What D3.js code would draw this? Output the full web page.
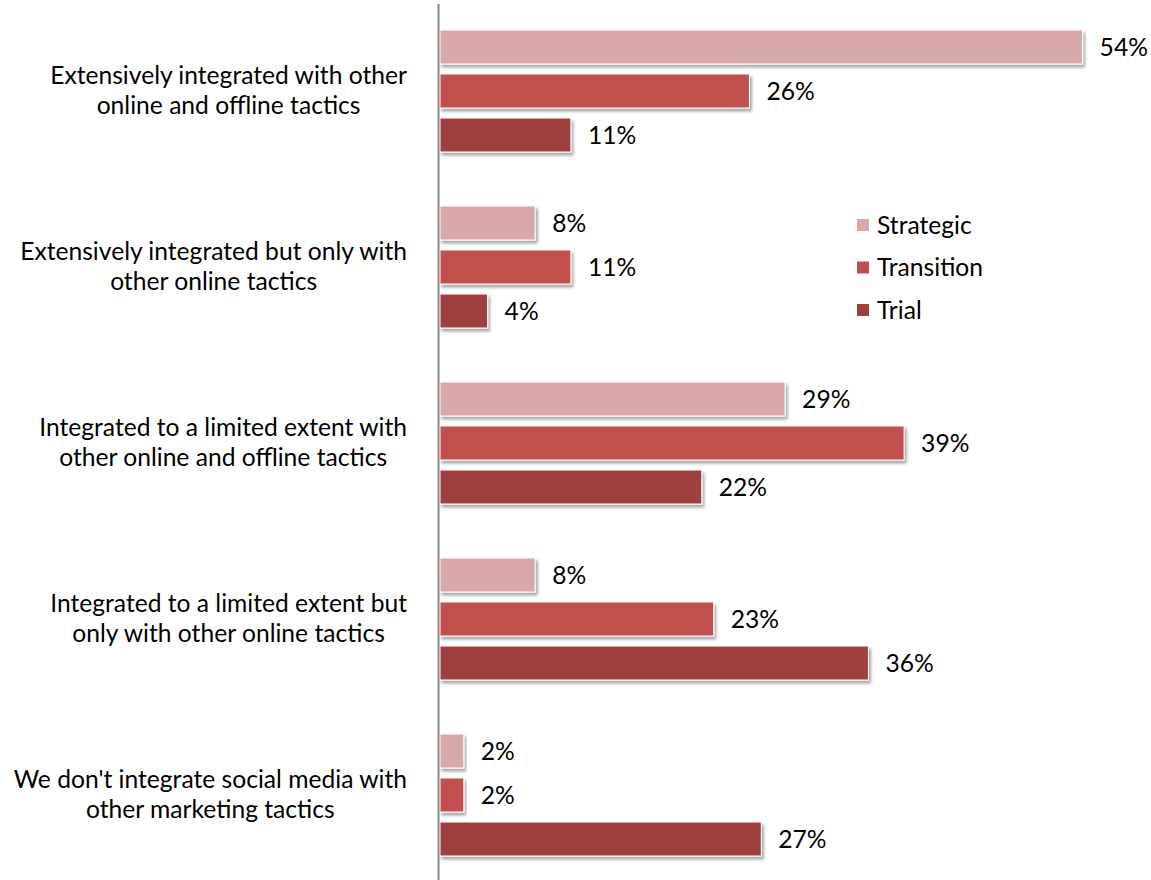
<!DOCTYPE html>
<html>
<head>
<meta charset="utf-8">
<script src="https://cdn.jsdelivr.net/npm/d3@7"></script>
<style>
  html, body { margin: 0; padding: 0; background: #fff; }
  svg { display: block; }
  text { font-family: Lato, "Open Sans", "Liberation Sans", sans-serif; fill: #000; }
</style>
</head>
<body>
<svg id="chart" width="1151" height="880"></svg>
<script>
const categories = [
  "Extensively integrated with other\nonline and offline tactics",
  "Extensively integrated but only with\nother online tactics",
  "Integrated to a limited extent with\nother online and offline tactics",
  "Integrated to a limited extent but\nonly with other online tactics",
  "We don't integrate social media with\nother marketing tactics"
];
const seriesNames = ["Strategic", "Transition", "Trial"];
const strategic = [54, 8, 29, 8, 2];
const transition = [26, 11, 39, 23, 2];
const trial = [11, 4, 22, 36, 27];
const seriesColors = ["#D9A9A9", "#C0504D", "#9E413E"];

const seriesValues = [strategic, transition, trial];
const rows = categories.map((c, i) => ({
  category: c,
  values: seriesNames.map((s, j) => ({ series: s, value: seriesValues[j][i], color: seriesColors[j] }))
}));

const svg = d3.select("#chart");

// fit font size so that reference line width matches
const probe = svg.append("text").attr("font-size", 100).text("Extensively integrated with other");
const w100 = probe.node().getComputedTextLength();
probe.remove();
const fs = Math.min(26, 100 * 357 / w100);

const defs = svg.append("defs");
const f = defs.append("filter").attr("id", "shadow").attr("x", "-5%").attr("y", "-20%").attr("width", "115%").attr("height", "160%");
f.append("feDropShadow").attr("dx", 2).attr("dy", 3).attr("stdDeviation", 1.6)
  .attr("flood-color", "#000").attr("flood-opacity", 0.35);

const x = d3.scaleLinear().domain([0, 60]).range([440, 440 + 60 * 11.9]);
const y0 = d3.scaleBand().domain(categories).range([3, 883]).paddingInner(0.25).paddingOuter(0.125);
const pi = 10 / 44;
const y1 = d3.scaleBand().domain(seriesNames).range([0, y0.bandwidth()]).paddingInner(pi).paddingOuter(pi / 2);

const groups = svg.append("g").selectAll("g").data(rows).join("g")
  .attr("transform", d => `translate(0,${y0(d.category)})`);

groups.selectAll("rect").data(d => d.values).join("rect")
  .attr("x", x(0))
  .attr("y", d => y1(d.series))
  .attr("width", d => x(d.value) - x(0))
  .attr("height", y1.bandwidth())
  .attr("fill", d => d.color)
  .attr("stroke", "#fff")
  .attr("stroke-width", 1)
  .attr("filter", "url(#shadow)");

groups.selectAll("text.val").data(d => d.values).join("text")
  .attr("class", "val")
  .attr("x", d => x(d.value) + 17)
  .attr("y", d => y1(d.series) + y1.bandwidth() / 2)
  .attr("dy", "0.36em")
  .attr("font-size", fs)
  .text(d => d.value + "%");

// axis line
svg.append("line")
  .attr("x1", 438.5).attr("x2", 438.5)
  .attr("y1", 4).attr("y2", 880)
  .attr("stroke", "#868686").attr("stroke-width", 2);

// category labels (centered block, right-aligned)
const lineH = 30;
const labelRight = 407;
rows.forEach(r => {
  const lines = r.category.split("\n");
  const cy = y0(r.category) + y0.bandwidth() / 2;
  const t = svg.append("text").attr("font-size", fs).attr("text-anchor", "middle");
  const spans = lines.map((ln, k) => t.append("tspan")
    .attr("y", cy + (k - (lines.length - 1) / 2) * lineH + 8)
    .text(ln));
  let maxW = 0;
  spans.forEach(s => { maxW = Math.max(maxW, s.node().getComputedTextLength()); });
  spans.forEach(s => s.attr("x", labelRight - maxW / 2));
});

// legend
const legend = svg.append("g").selectAll("g").data(seriesNames).join("g")
  .attr("transform", (d, i) => `translate(857,${225 + i * 42.5})`);
legend.append("rect").attr("x", 0).attr("y", -6).attr("width", 12).attr("height", 12)
  .attr("fill", (d, i) => seriesColors[i]);
legend.append("text").attr("x", 20).attr("dy", "0.36em").attr("font-size", fs).text(d => d);
</script>
</body>
</html>
